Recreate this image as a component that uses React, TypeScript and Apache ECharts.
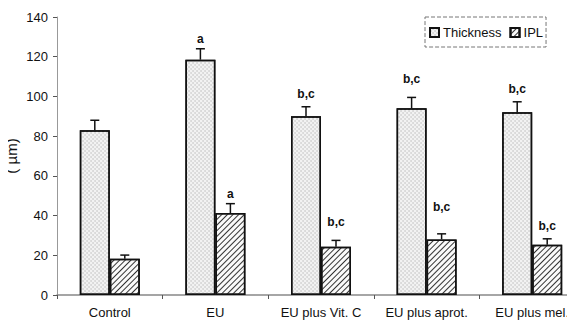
import React, { useEffect, useRef } from "react";
import * as echarts from "echarts";

const categories = ["Control", "EU", "EU plus Vit. C", "EU plus aprot.", "EU plus mel."];
const thickness = [83, 118.5, 90, 94, 92];
const thicknessErr = [5, 5.5, 4.8, 5.5, 5.3];
const ipl = [18.3, 41.3, 24.3, 28, 25.3];
const iplErr = [1.8, 4.7, 3.2, 2.8, 3];
const thicknessMarks = ["", "a", "b,c", "b,c", "b,c"];
const thicknessMarkAt = [0, 129, 101, 109, 103.6];
const iplMarks = ["", "a", "b,c", "b,c", "b,c"];
const iplMarkAt = [0, 51, 37, 44.5, 35];
const yTicks = [0, 20, 40, 60, 80, 100, 120, 140];

const FONT = "Liberation Sans, Arial, sans-serif";

function errSeries(name: string, vals: number[], errs: number[], marks: string[], markAt: number[], offset: number) {
  return {
    type: "custom",
    name,
    silent: true,
    z: 5,
    data: vals.map((v, i) => [i, v, v + errs[i], markAt[i]]),
    renderItem: (params: any, api: any) => {
      const i = api.value(0);
      const base = api.coord([i, api.value(1)]);
      const top = api.coord([i, api.value(2)]);
      const x = base[0] + offset;
      const children: any[] = [
        { type: "line", shape: { x1: x, y1: base[1], x2: x, y2: top[1] }, style: { stroke: "#111", lineWidth: 1.5 } },
        { type: "line", shape: { x1: x - 4.5, y1: top[1], x2: x + 4.5, y2: top[1] }, style: { stroke: "#111", lineWidth: 1.5 } },
      ];
      const m = marks[params.dataIndex];
      if (m) {
        const lp = api.coord([i, api.value(3)]);
        children.push({
          type: "text",
          x: x,
          y: lp[1],
          style: { text: m, fill: "#111", font: "bold 12px " + FONT, align: "center", verticalAlign: "middle" },
        });
      }
      return { type: "group", children };
    },
  };
}

export default function App() {
  const ref = useRef<HTMLDivElement>(null);
  useEffect(() => {
    if (!ref.current) return;
    const chart = echarts.init(ref.current, null, { renderer: "svg" });
    chart.setOption({
      animation: false,
      backgroundColor: "#fff",
      textStyle: { fontFamily: FONT },
      grid: { left: 57, top: 17, width: 528, height: 278, containLabel: false, outerBoundsMode: "none" },
      legend: {
        data: ["Thickness", "IPL"],
        left: 425,
        top: 17,
        padding: [9, 3, 8, 4],
        itemGap: 8,
        itemWidth: 9,
        itemHeight: 9,
        icon: "rect",
        borderColor: "#777",
        borderWidth: 1,
        borderType: "dashed",
        textStyle: { fontSize: 13, color: "#111", fontFamily: FONT, padding: [0, 0, 0, -1] },
      },
      xAxis: {
        type: "category",
        data: categories,
        axisLine: { lineStyle: { color: "#888", width: 1.5 } },
        axisTick: { show: true, length: 4, inside: false, lineStyle: { color: "#555" } },
        axisLabel: { color: "#111", fontSize: 13, margin: 11, fontFamily: FONT, interval: 0, hideOverlap: false },
      },
      yAxis: {
        type: "value",
        min: 0,
        max: 140,
        interval: 20,
        name: "( µm)",
        nameLocation: "middle",
        nameGap: 38,
        nameMoveOverlap: false,
        nameRotate: 90,
        nameTextStyle: { fontSize: 15, color: "#111", fontFamily: FONT },
        axisLine: { show: true, lineStyle: { color: "#999", width: 1 } },
        axisTick: { show: true, length: 4, lineStyle: { color: "#555" } },
        splitLine: { show: false },
        axisLabel: {
          color: "#111",
          fontSize: 13,
          margin: 9,
          fontFamily: FONT,
          formatter: (v: number) => (yTicks.includes(v) ? String(v) : ""),
        },
      },
      series: [
        {
          name: "Thickness",
          type: "bar",
          data: thickness,
          barWidth: 30,
          barGap: "0%",
          itemStyle: {
            color: "#f2f2f2",
            borderColor: "#111",
            borderWidth: 1.5,
            decal: {
              symbol: "circle",
              symbolSize: 0.55,
              dashArrayX: [[1.5, 1.5], [0, 1.5, 1.5, 0]],
              dashArrayY: [1.5, 0],
              color: "#a8a8a8",
            },
          },
        },
        {
          name: "IPL",
          type: "bar",
          data: ipl,
          barWidth: 30,
          barGap: "0%",
          itemStyle: {
            color: "#fafafa",
            borderColor: "#111",
            borderWidth: 1.5,
            decal: {
              symbol: "rect",
              symbolSize: 1,
              dashArrayX: [1, 0],
              dashArrayY: [1, 2.6],
              rotation: -Math.PI / 4,
              color: "#333",
            },
          },
        },
        errSeries("errT", thickness, thicknessErr, thicknessMarks, thicknessMarkAt, -15),
        errSeries("errI", ipl, iplErr, iplMarks, iplMarkAt, 15),
      ],
    });
    return () => chart.dispose();
  }, []);
  return <div ref={ref} style={{ width: 575, height: 320, marginLeft: -8, marginTop: -8 }} />;
}
